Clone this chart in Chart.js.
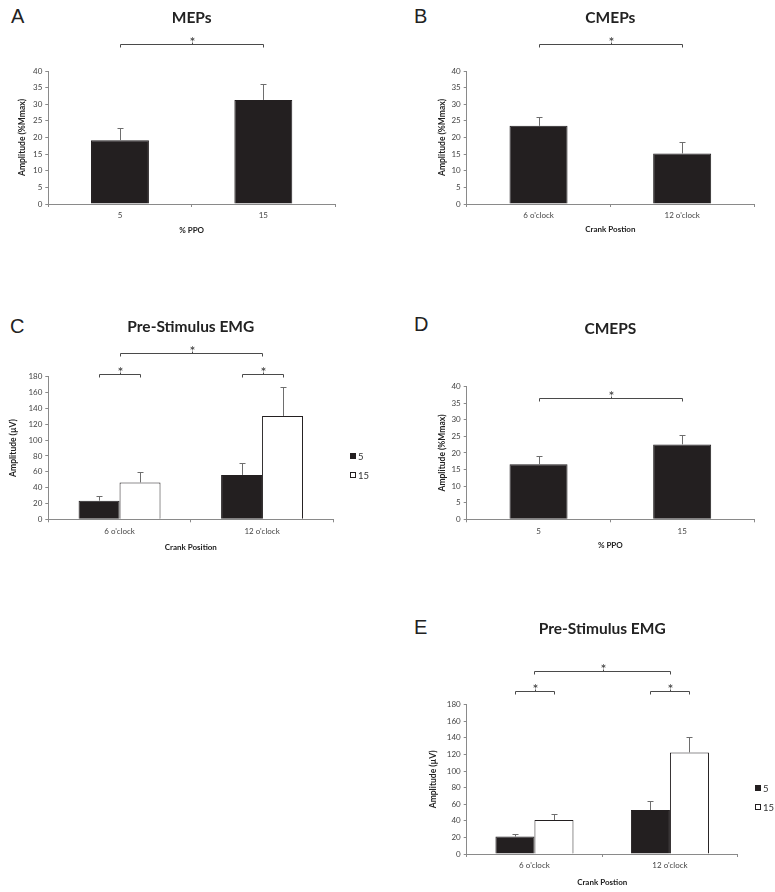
<!DOCTYPE html>
<html>
<head>
<meta charset="utf-8">
<script src="https://cdn.jsdelivr.net/npm/chart.js@4.4.1/dist/chart.umd.min.js"></script>
<style>
  body { margin: 0; background: #fff; }
  #page { position: relative; width: 775px; height: 892px; overflow: hidden; }
  canvas { position: absolute; }
  .lab { position: absolute; font: 20px 'Liberation Sans', Arial, sans-serif; line-height: 20px; color: #222; }
</style>
</head>
<body>
<div id="page">
  <div class="lab" style="left:11px;top:6px">A</div>
  <div class="lab" style="left:414px;top:6px">B</div>
  <div class="lab" style="left:10px;top:316px">C</div>
  <div class="lab" style="left:414px;top:314px">D</div>
  <div class="lab" style="left:414px;top:617px">E</div>
  <canvas id="chartA"></canvas>
  <canvas id="chartB"></canvas>
  <canvas id="chartC"></canvas>
  <canvas id="chartD"></canvas>
  <canvas id="chartE"></canvas>
</div>
<script>
// categories
const ppoLevels = ['5', '15'];
const crankPositions = ["6 o'clock", "12 o'clock"];

// A: MEPs by %PPO
const mepMeans = [19.2, 31.3];
const mepErr = [3.8, 4.7];

// B: CMEPs by crank position
const cmepCrankMeans = [23.5, 15.2];
const cmepCrankErr = [2.8, 3.3];

// C: pre-stimulus EMG (MEP session)
const emgC5 = [23.5, 56];
const emgC5Err = [6.4, 15.6];
const emgC15 = [46.5, 130.5];
const emgC15Err = [13, 37];

// D: CMEPs by %PPO
const cmepPpoMeans = [16.6, 22.6];
const cmepPpoErr = [2.4, 2.7];

// E: pre-stimulus EMG (CMEP session)
const emgE5 = [21, 53];
const emgE5Err = [2.8, 11.3];
const emgE15 = [41, 122.5];
const emgE15Err = [7.2, 18.1];

// tick labels
const percentTicks = [0, 5, 10, 15, 20, 25, 30, 35, 40];
const emgTicks = [0, 20, 40, 60, 80, 100, 120, 140, 160, 180];

Chart.defaults.font.family = 'Lato, "Open Sans", sans-serif';
const axisGrey = '#8a8a8a';
const barDark = '#231f20';

// error bars, significance brackets, legend
const extras = {
  id: 'extras',
  afterDatasetsDraw(chart, args, opts) {
    const ctx = chart.ctx;
    const xs = chart.scales.x, ys = chart.scales.y;
    ctx.save();
    ctx.lineWidth = 1;
    chart.data.datasets.forEach((ds, d) => {
      chart.getDatasetMeta(d).data.forEach((bar, i) => {
        const top = Math.round(ys.getPixelForValue(ds.data[i] + ds.err[i])) + 0.5;
        const cx = Math.round(bar.x) + 0.5;
        ctx.strokeStyle = '#6e6e6e';
        ctx.beginPath();
        ctx.moveTo(cx, bar.y);
        ctx.lineTo(cx, top);
        ctx.moveTo(cx - 3, top);
        ctx.lineTo(cx + 3, top);
        ctx.stroke();
      });
    });
    const px = e => e.ds === undefined ? xs.getPixelForValue(e.cat) : chart.getDatasetMeta(e.ds).data[e.cat].x;
    (opts.brackets || []).forEach(b => {
      const x1 = Math.round(px(b.from)) + 0.5, x2 = Math.round(px(b.to)) + 0.5;
      const yy = Math.round(ys.getPixelForValue(b.level)) + 0.5;
      const xm = Math.round((x1 + x2) / 2) + 0.5;
      ctx.strokeStyle = '#4a4a4a';
      ctx.beginPath();
      ctx.moveTo(x1, yy + 3);
      ctx.lineTo(x1, yy);
      ctx.lineTo(x2, yy);
      ctx.lineTo(x2, yy + 3);
      ctx.moveTo(xm, yy);
      ctx.lineTo(xm, yy - 2);
      ctx.stroke();
      ctx.fillStyle = '#333';
      ctx.font = '14px Lato, sans-serif';
      ctx.textAlign = 'center';
      ctx.textBaseline = 'alphabetic';
      ctx.fillText('*', xm, yy + 2);
    });
    if (opts.legend) {
      const area = chart.chartArea;
      const cy = area.bottom - 0.38 * (area.bottom - area.top);
      const n = chart.data.datasets.length;
      chart.data.datasets.forEach((ds, d) => {
        const y = Math.round(cy + (d - (n - 1) / 2) * 19);
        const x = Math.round(area.right + 17);
        ctx.fillStyle = ds.backgroundColor;
        ctx.fillRect(x, y - 3, 6, 6);
        ctx.strokeStyle = ds.borderColor;
        ctx.strokeRect(x + 0.5, y - 2.5, 5, 5);
        ctx.fillStyle = '#333';
        ctx.font = '9.5px Lato, sans-serif';
        ctx.textAlign = 'left';
        ctx.textBaseline = 'middle';
        ctx.fillText(ds.label, x + 8, y + 0.5);
      });
    }
    ctx.restore();
  }
};

function makePanel(id, p) {
  const cv = document.getElementById(id);
  const left = Math.round(p.yTitleX - 7);
  const top = Math.round(p.titleY - 13);
  const bottom = Math.round(p.xTitleY + 9);
  cv.width = p.right - left;
  cv.height = bottom - top;
  cv.style.left = left + 'px';
  cv.style.top = top + 'px';
  const titleTop = p.titleY - top - 9;
  const ticks = p.ticks;
  new Chart(cv, {
    type: 'bar',
    data: { labels: p.labels, datasets: p.datasets },
    options: {
      responsive: false,
      animation: false,
      layout: { padding: { left: 0, top: 0, bottom: 0, right: p.right - p.areaRight } },
      datasets: { bar: { categoryPercentage: p.catPct, barPercentage: p.barPct } },
      plugins: {
        legend: { display: false },
        tooltip: { enabled: false },
        title: {
          display: true, text: p.title, fullSize: false, color: '#222',
          font: { size: 15.5, weight: 'bold' },
          padding: { top: titleTop, bottom: p.areaTop - top - titleTop - 18.6 }
        },
        extras: { brackets: p.brackets, legend: p.legend }
      },
      scales: {
        x: {
          grid: { drawOnChartArea: false, tickLength: 3, color: axisGrey, offset: true },
          border: { color: axisGrey },
          ticks: { color: '#444', font: { size: 8 }, padding: 4 },
          title: { display: true, text: p.xTitle, color: '#222', font: { size: 8, weight: 'bold' }, padding: { top: 0, bottom: 4 } },
          afterFit: s => { s.height = bottom - p.areaBottom; }
        },
        y: {
          min: ticks[0], max: ticks[ticks.length - 1],
          grid: { drawOnChartArea: false, tickLength: 3, color: axisGrey },
          border: { color: axisGrey },
          ticks: { color: '#444', font: { size: 8 }, padding: 3 },
          afterBuildTicks: s => { s.ticks = ticks.map(v => ({ value: v })); },
          title: { display: true, text: p.yTitle, color: '#222', font: { size: 8.5, weight: 'bold' }, padding: { top: 2, bottom: 0 } },
          afterFit: s => { s.width = p.areaLeft - left; }
        }
      }
    },
    plugins: [extras]
  });
}

function blackBars(label, data, err) {
  return { label, data, err, backgroundColor: barDark, borderColor: barDark, borderWidth: 1 };
}
function whiteBars(label, data, err) {
  return { label, data, err, backgroundColor: '#ffffff', borderColor: barDark, borderWidth: 1 };
}

makePanel('chartA', {
  title: 'MEPs', xTitle: '% PPO', yTitle: 'Amplitude (%Mmax)', labels: ppoLevels, ticks: percentTicks,
  datasets: [blackBars('MEPs', mepMeans, mepErr)], catPct: 1, barPct: 0.404,
  brackets: [{ from: { cat: 0 }, to: { cat: 1 }, level: 48.1 }],
  areaLeft: 48.3, areaRight: 335, areaTop: 71, areaBottom: 204, titleY: 17.5, yTitleX: 22, xTitleY: 230, right: 345
});

makePanel('chartB', {
  title: 'CMEPs', xTitle: 'Crank Postion', yTitle: 'Amplitude (%Mmax)', labels: crankPositions, ticks: percentTicks,
  datasets: [blackBars('CMEPs', cmepCrankMeans, cmepCrankErr)], catPct: 1, barPct: 0.404,
  brackets: [{ from: { cat: 0 }, to: { cat: 1 }, level: 48.1 }],
  areaLeft: 466.7, areaRight: 754, areaTop: 71, areaBottom: 204, titleY: 17.5, yTitleX: 441.7, xTitleY: 229.3, right: 765
});

makePanel('chartC', {
  title: 'Pre-Stimulus EMG', xTitle: 'Crank Position', yTitle: 'Amplitude (\u00b5V)', labels: crankPositions, ticks: emgTicks,
  datasets: [blackBars('5', emgC5, emgC5Err), whiteBars('15', emgC15, emgC15Err)], catPct: 0.575, barPct: 1,
  brackets: [
    { from: { cat: 0 }, to: { cat: 1 }, level: 209.4 },
    { from: { ds: 0, cat: 0 }, to: { ds: 1, cat: 0 }, level: 183 },
    { from: { ds: 0, cat: 1 }, to: { ds: 1, cat: 1 }, level: 183 }
  ],
  legend: true,
  areaLeft: 48.3, areaRight: 333.3, areaTop: 376.7, areaBottom: 519.3, titleY: 326.7, yTitleX: 13.3, xTitleY: 546.7, right: 390
});

makePanel('chartD', {
  title: 'CMEPS', xTitle: '% PPO', yTitle: 'Amplitude (%Mmax)', labels: ppoLevels, ticks: percentTicks,
  datasets: [blackBars('CMEPs', cmepPpoMeans, cmepPpoErr)], catPct: 1, barPct: 0.404,
  brackets: [{ from: { cat: 0 }, to: { cat: 1 }, level: 36.7 }],
  areaLeft: 466.7, areaRight: 754, areaTop: 386.7, areaBottom: 519.3, titleY: 328.3, yTitleX: 441.7, xTitleY: 545, right: 765
});

makePanel('chartE', {
  title: 'Pre-Stimulus EMG', xTitle: 'Crank Postion', yTitle: 'Amplitude (\u00b5V)', labels: crankPositions, ticks: emgTicks,
  datasets: [blackBars('5', emgE5, emgE5Err), whiteBars('15', emgE15, emgE15Err)], catPct: 0.576, barPct: 1,
  brackets: [
    { from: { cat: 0 }, to: { cat: 1 }, level: 221 },
    { from: { ds: 0, cat: 0 }, to: { ds: 1, cat: 0 }, level: 196.5 },
    { from: { ds: 0, cat: 1 }, to: { ds: 1, cat: 1 }, level: 196.5 }
  ],
  legend: true,
  areaLeft: 466.7, areaRight: 737.7, areaTop: 704.7, areaBottom: 854, titleY: 628.3, yTitleX: 433.3, xTitleY: 882.3, right: 775
});
</script>
</body>
</html>
